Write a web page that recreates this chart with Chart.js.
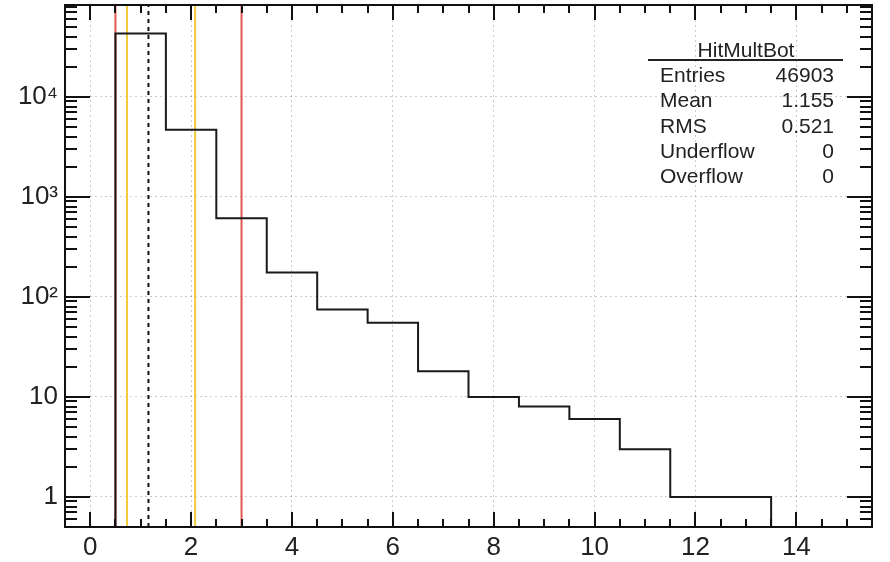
<!DOCTYPE html>
<html>
<head>
<meta charset="utf-8">
<script src="https://cdn.jsdelivr.net/npm/chart.js@4"></script>
<style>
  html, body { margin: 0; padding: 0; background: #fff; }
  #wrap { width: 890px; height: 562px; }
</style>
</head>
<body>
<div id="wrap"><canvas id="hist"></canvas></div>
<script>
// HitMultBot histogram: bins of width 1 centred on integers
const binEdges = [0.5, 1.5, 2.5, 3.5, 4.5, 5.5, 6.5, 7.5, 8.5, 9.5, 10.5, 11.5, 12.5, 13.5];
const binCounts = [43000, 4700, 610, 175, 75, 55, 18, 10, 8, 6, 3, 1, 1];

const xTicks = [0, 2, 4, 6, 8, 10, 12, 14];
const yTicks = [1, 10, 100, 1000, 10000];
const yTickLabels = ['1', '10', '10²', '10³', '10⁴'];

// cut lines
const redCuts = [0.5, 3.0];
const yellowCuts = [0.73, 2.08];
const meanX = 1.155;

const statNames = ['Entries', 'Mean', 'RMS', 'Underflow', 'Overflow'];
const statValues = ['46903', '1.155', '0.521', '0', '0'];
const statTitle = 'HitMultBot';

const X_MIN = -0.5, X_MAX = 15.5;
const Y_MIN = 0.5, Y_MAX = 83000;

const FONT = "'Liberation Sans', Arial, Helvetica, sans-serif";

// step outline: rise at the first edge, fall at the last
const histPoints = [{ x: binEdges[0], y: Y_MIN }];
binCounts.forEach((c, i) => histPoints.push({ x: binEdges[i + 1], y: c }));
histPoints.push({ x: binEdges[binEdges.length - 1], y: Y_MIN });

function vline(x, color, dash) {
    return {
        data: [{ x: x, y: Y_MIN }, { x: x, y: Y_MAX }],
        borderColor: color,
        borderWidth: 2,
        borderDash: dash || [],
        pointRadius: 0,
        fill: false,
        order: 1
    };
}

// inward ticks on all four sides plus the frame
const frameTicks = {
    id: 'frameTicks',
    afterDatasetsDraw(chart) {
        const { ctx, chartArea: a, scales: { x, y } } = chart;
        ctx.save();
        ctx.strokeStyle = '#111';
        ctx.lineWidth = 2;

        for (let v = X_MIN; v <= X_MAX + 1e-9; v += 0.5) {
            const px = Math.round(x.getPixelForValue(v));
            const len = (Math.abs(v % 2) < 1e-9) ? 15 : 8;
            ctx.beginPath();
            ctx.moveTo(px, a.bottom); ctx.lineTo(px, a.bottom - len);
            ctx.moveTo(px, a.top); ctx.lineTo(px, a.top + len);
            ctx.stroke();
        }

        for (let k = -1; k <= 4; k++) {
            for (let d = 1; d <= 9; d++) {
                const v = d * Math.pow(10, k);
                if (v < Y_MIN || v > Y_MAX) continue;
                const py = Math.round(y.getPixelForValue(v));
                const len = d === 1 ? 25 : 12;
                ctx.beginPath();
                ctx.moveTo(a.left, py); ctx.lineTo(a.left + len, py);
                ctx.moveTo(a.right, py); ctx.lineTo(a.right - len, py);
                ctx.stroke();
            }
        }

        ctx.strokeRect(a.left, a.top, a.right - a.left, a.bottom - a.top);
        ctx.restore();
    }
};

// statistics panel in the upper right
const statsBox = {
    id: 'statsBox',
    afterDraw(chart) {
        const ctx = chart.ctx;
        const left = 660, right = 834;
        ctx.save();
        ctx.fillStyle = '#222';
        ctx.font = '21px ' + FONT;
        ctx.textBaseline = 'alphabetic';
        ctx.textAlign = 'center';
        ctx.fillText(statTitle, 746, 57);

        ctx.strokeStyle = '#222';
        ctx.lineWidth = 2;
        ctx.beginPath();
        ctx.moveTo(648, 60); ctx.lineTo(843, 60);
        ctx.stroke();

        statNames.forEach((name, i) => {
            const base = 82 + i * 25.3;
            ctx.textAlign = 'left';
            ctx.fillText(name, left, base);
            ctx.textAlign = 'right';
            ctx.fillText(statValues[i], right, base);
        });
        ctx.restore();
    }
};

const gridStyle = { color: 'rgba(0,0,0,0.2)', lineWidth: 1, drawTicks: false };

new Chart(document.getElementById('hist'), {
    type: 'line',
    data: {
        datasets: [
            {
                data: histPoints,
                stepped: 'after',
                borderColor: '#1a1a1a',
                borderWidth: 2,
                pointRadius: 0,
                fill: false,
                order: 0
            },
            ...redCuts.map(v => vline(v, '#e05a4f')),
            ...yellowCuts.map(v => vline(v, '#f2c93a')),
            vline(meanX, '#111', [4, 4])
        ]
    },
    options: {
        responsive: true,
        maintainAspectRatio: false,
        animation: false,
        layout: { padding: { top: 5, right: 18, left: 0, bottom: 0 } },
        plugins: {
            legend: { display: false },
            tooltip: { enabled: false }
        },
        scales: {
            x: {
                type: 'linear',
                min: X_MIN,
                max: X_MAX,
                afterBuildTicks: s => { s.ticks = xTicks.map(v => ({ value: v })); },
                afterFit: s => { s.height = 35; s.paddingLeft = 0; s.paddingRight = 0; },
                grid: gridStyle,
                border: { display: false, dash: [2, 3] },
                ticks: {
                    color: '#222',
                    padding: 5,
                    maxRotation: 0,
                    autoSkip: false,
                    font: { family: FONT, size: 26 }
                }
            },
            y: {
                type: 'logarithmic',
                min: Y_MIN,
                max: Y_MAX,
                afterBuildTicks: s => { s.ticks = yTicks.map(v => ({ value: v })); },
                afterFit: s => { s.width = 65; s.paddingTop = 0; s.paddingBottom = 0; },
                grid: gridStyle,
                border: { display: false, dash: [2, 3] },
                ticks: {
                    color: '#222',
                    padding: 7,
                    autoSkip: false,
                    font: { family: FONT, size: 26 },
                    callback: v => yTickLabels[yTicks.indexOf(v)]
                }
            }
        }
    },
    plugins: [frameTicks, statsBox]
});
</script>
</body>
</html>
